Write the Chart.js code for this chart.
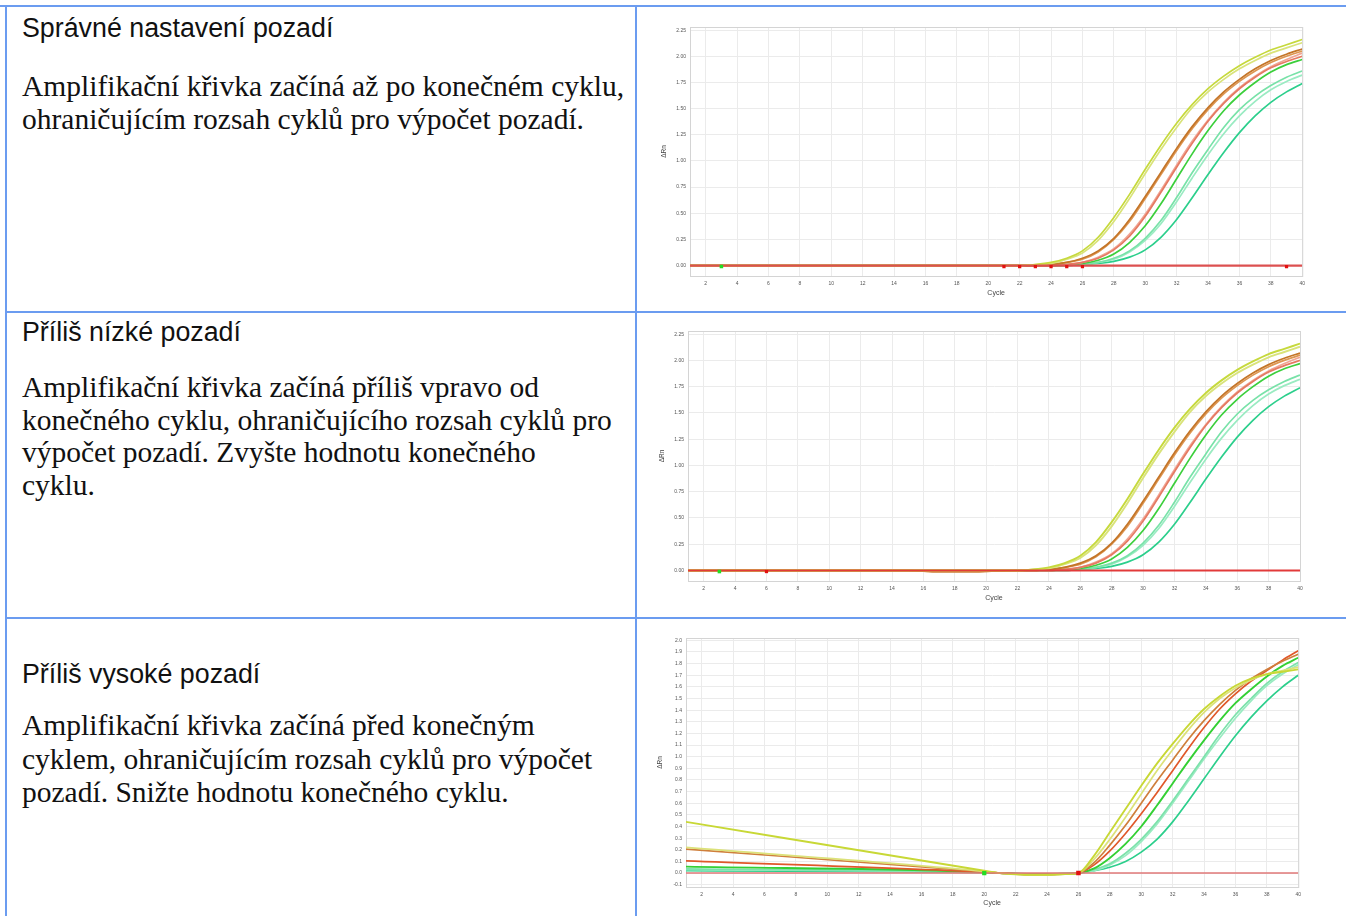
<!DOCTYPE html>
<html>
<head>
<meta charset="utf-8">
<script src="https://cdn.jsdelivr.net/npm/chart.js@4.4.1/dist/chart.umd.min.js"></script>
<style>
  body { margin: 0; background: #fff; width: 1346px; height: 916px; overflow: hidden; position: relative; }
  .rule { position: absolute; background: #6b9cf0; }
  .title { position: absolute; left: 22px; font-family: "Liberation Sans", Arial, sans-serif; font-size: 26.8px; line-height: 26px; color: #111; white-space: nowrap; }
  .text { position: absolute; left: 22px; font-family: "Liberation Serif", "Times New Roman", serif; font-size: 29.5px; line-height: 33px; color: #111; white-space: nowrap; }
  canvas { position: absolute; filter: blur(0.45px); }
</style>
</head>
<body>
<!-- table rules -->
<div class="rule" style="left:0;top:5px;width:1346px;height:2px"></div>
<div class="rule" style="left:5px;top:5px;width:2px;height:911px"></div>
<div class="rule" style="left:635px;top:5px;width:2px;height:911px"></div>
<div class="rule" style="left:5px;top:311px;width:1341px;height:2px"></div>
<div class="rule" style="left:5px;top:617px;width:1341px;height:2px"></div>

<div class="title" style="top:15px">Správné nastavení pozadí</div>
<div class="text" style="top:70px">Amplifikační křivka začíná až po konečném cyklu,<br>ohraničujícím rozsah cyklů pro výpočet pozadí.</div>

<div class="title" style="top:319px">Příliš nízké pozadí</div>
<div class="text" style="top:371px;line-height:32.6px">Amplifikační křivka začíná příliš vpravo od<br>konečného cyklu, ohraničujícího rozsah cyklů pro<br>výpočet pozadí. Zvyšte hodnotu konečného<br>cyklu.</div>

<div class="title" style="top:661px">Příliš vysoké pozadí</div>
<div class="text" style="top:709px;line-height:33.5px">Amplifikační křivka začíná před konečným<br>cyklem, ohraničujícím rozsah cyklů pro výpočet<br>pozadí. Snižte hodnotu konečného cyklu.</div>

<canvas id="chartGood" width="662" height="290" style="left:648px;top:18px"></canvas>
<canvas id="chartLow" width="662" height="290" style="left:646px;top:322px"></canvas>
<canvas id="chartHigh" width="662" height="287" style="left:644px;top:629px"></canvas>

<script>
// amplification curves (ΔRn per cycle) shared by the first two plots
const RISE_CYCLES = [1, 22, 23, 24, 25, 26, 27, 28, 29, 30, 31, 32, 33, 34, 35, 36, 37, 38, 39, 40];
const YELLOW_1 = [0, 0, 0.01, 0.03, 0.07, 0.14, 0.27, 0.46, 0.68, 0.92, 1.15, 1.36, 1.54, 1.69, 1.81, 1.91, 1.99, 2.06, 2.11, 2.16];
const YELLOW_2 = [0, 0, 0.01, 0.02, 0.06, 0.12, 0.24, 0.42, 0.64, 0.88, 1.11, 1.32, 1.51, 1.66, 1.78, 1.88, 1.96, 2.03, 2.08, 2.13];
const ORANGE_1 = [0, 0, 0, 0.01, 0.03, 0.07, 0.14, 0.26, 0.44, 0.66, 0.89, 1.12, 1.33, 1.51, 1.66, 1.78, 1.88, 1.96, 2.02, 2.07];
const ORANGE_2 = [0, 0, 0, 0.01, 0.03, 0.06, 0.13, 0.25, 0.42, 0.64, 0.87, 1.10, 1.31, 1.49, 1.64, 1.76, 1.86, 1.94, 2.00, 2.05];
const SALMON_1 = [0, 0, 0, 0, 0.01, 0.03, 0.07, 0.15, 0.28, 0.47, 0.70, 0.94, 1.17, 1.38, 1.55, 1.69, 1.80, 1.89, 1.95, 2.00];
const SALMON_2 = [0, 0, 0, 0, 0.01, 0.03, 0.08, 0.16, 0.30, 0.49, 0.72, 0.96, 1.19, 1.39, 1.56, 1.70, 1.81, 1.90, 1.97, 2.03];
const GREEN_1 = [0, 0, 0, 0, 0.01, 0.02, 0.05, 0.11, 0.22, 0.38, 0.59, 0.83, 1.07, 1.29, 1.48, 1.63, 1.75, 1.85, 1.92, 1.97];
const LIGHT_1 = [0, 0, 0, 0, 0, 0.01, 0.03, 0.07, 0.14, 0.26, 0.43, 0.65, 0.89, 1.11, 1.32, 1.49, 1.62, 1.72, 1.80, 1.86];
const LIGHT_2 = [0, 0, 0, 0, 0, 0.01, 0.03, 0.06, 0.13, 0.24, 0.40, 0.61, 0.84, 1.06, 1.26, 1.43, 1.57, 1.68, 1.76, 1.82];
const TEAL_1 = [0, 0, 0, 0, 0, 0.01, 0.02, 0.04, 0.08, 0.15, 0.27, 0.44, 0.65, 0.87, 1.08, 1.27, 1.43, 1.56, 1.66, 1.74];

// slight sag of the orange wells before the rise (second plot)
const SAG_CYCLES = [15, 17, 19, 21];
const SAG_VALUES = [0, -0.012, -0.012, -0.004];

// flat baseline well
const BASE_CYCLES = [1, 40];
const BASE_VALUES = [0, 0];

// baseline start / end cycle markers
const GOOD_START = [3];
const GOOD_END = [21, 22, 23, 24, 25, 26, 39];
const LOW_START = [3];
const LOW_END = [6];
const HIGH_START = [20];
const HIGH_END = [26];

// third plot: wells with a sloped pre-rise segment
const HIGH_CYCLES = [1, 20, 21, 22, 23, 24, 25, 26, 27, 28, 29, 30, 31, 32, 33, 34, 35, 36, 37, 38, 39, 40];
const H_YELLOW_1 = [0.44, 0.02, 0, -0.01, -0.015, -0.015, -0.01, 0, 0.15, 0.35, 0.55, 0.75, 0.94, 1.11, 1.27, 1.41, 1.52, 1.61, 1.67, 1.71, 1.73, 1.75];
const H_YELLOW_2 = [0.22, 0.015, 0, -0.01, -0.015, -0.015, -0.01, 0, 0.12, 0.29, 0.48, 0.68, 0.88, 1.06, 1.23, 1.38, 1.50, 1.59, 1.66, 1.71, 1.74, 1.77];
const H_ORANGE = [0.205, 0.012, 0, -0.01, -0.015, -0.015, -0.01, 0, 0.09, 0.24, 0.41, 0.60, 0.79, 0.97, 1.15, 1.31, 1.45, 1.57, 1.67, 1.75, 1.82, 1.88];
const H_RED = [0.105, 0.008, 0, -0.008, -0.012, -0.012, -0.008, 0, 0.07, 0.19, 0.34, 0.51, 0.69, 0.88, 1.07, 1.25, 1.41, 1.54, 1.65, 1.74, 1.83, 1.91];
const H_GREEN = [0.055, 0.008, 0, -0.005, -0.01, -0.01, -0.006, 0, 0.04, 0.13, 0.25, 0.40, 0.58, 0.77, 0.96, 1.14, 1.31, 1.46, 1.58, 1.69, 1.78, 1.85];
const H_LIGHT_1 = [0.035, 0.006, 0, -0.005, -0.01, -0.01, -0.006, 0, 0.03, 0.08, 0.17, 0.29, 0.44, 0.62, 0.81, 1.00, 1.19, 1.36, 1.50, 1.63, 1.73, 1.81];
const H_LIGHT_2 = [0.03, 0.005, 0, -0.005, -0.01, -0.01, -0.006, 0, 0.02, 0.07, 0.15, 0.27, 0.42, 0.60, 0.79, 0.98, 1.16, 1.33, 1.48, 1.61, 1.71, 1.79];
const H_TEAL = [0.02, 0.004, 0, -0.004, -0.008, -0.008, -0.005, 0, 0.02, 0.05, 0.10, 0.18, 0.29, 0.44, 0.62, 0.81, 1.00, 1.18, 1.34, 1.48, 1.60, 1.70];

const toPoints = (xs, ys) => xs.map((x, i) => ({ x, y: ys[i] }));

const curve = (xs, ys, color, width = 1.7) => ({
  data: toPoints(xs, ys),
  borderColor: color,
  borderWidth: width,
  pointRadius: 0,
  fill: false,
  cubicInterpolationMode: 'monotone'
});

const markers = (cycles, color, y, size) => ({
  data: cycles.map(c => ({ x: c, y })),
  showLine: false,
  pointStyle: 'rect',
  pointRadius: size,
  pointBackgroundColor: color,
  pointBorderColor: color,
  pointBorderWidth: 0
});

// light frame round the plot area
const frame = {
  id: 'frame',
  beforeDatasetsDraw(chart) {
    const { ctx, chartArea: a } = chart;
    ctx.save();
    ctx.strokeStyle = '#d4d4d4';
    ctx.lineWidth = 1;
    ctx.strokeRect(a.left + 0.5, a.top + 0.5, a.right - a.left, a.bottom - a.top);
    ctx.restore();
  }
};

const tickFont = { family: 'Arial, "Liberation Sans", sans-serif', size: 5 };
const titleFont = { family: 'Arial, "Liberation Sans", sans-serif', size: 7 };

function makeChart(id, datasets, y, box) {
  new Chart(document.getElementById(id), {
    type: 'line',
    data: { datasets },
    plugins: [frame],
    options: {
      responsive: false,
      animation: false,
      devicePixelRatio: 1,
      layout: { padding: { left: 0, right: box.right, top: box.top, bottom: 0 } },
      plugins: { legend: { display: false }, tooltip: { enabled: false } },
      scales: {
        x: {
          type: 'linear',
          min: 1,
          max: 40,
          afterFit: s => { s.height = box.xHeight; },
          grid: { color: '#ebebeb', drawTicks: false },
          border: { color: '#a8a8a8' },
          ticks: { stepSize: 2, includeBounds: false, autoSkip: false, maxRotation: 0, padding: 5, color: '#555', font: tickFont },
          title: { display: true, text: 'Cycle', color: '#444', font: titleFont, padding: { top: 1, bottom: box.cyclePad } }
        },
        y: {
          type: 'linear',
          min: y.min,
          max: y.max,
          afterFit: s => { s.width = 42; },
          grid: { color: '#ebebeb', drawTicks: false },
          border: { color: '#a8a8a8' },
          ticks: { stepSize: y.step, includeBounds: false, autoSkip: false, padding: 4, color: '#555', font: tickFont,
                   callback: v => v.toFixed(y.digits) },
          title: { display: true, text: 'ΔRn', color: '#444', font: { family: titleFont.family, size: 6.5 }, padding: { top: 12, bottom: 0 } }
        }
      }
    }
  });
}

// 1) baseline set correctly
makeChart('chartGood', [
  markers(GOOD_START, '#22dd22', -0.01, 2.5),
  markers(GOOD_END, '#e31010', -0.01, 2.3),
  curve(BASE_CYCLES, BASE_VALUES, '#dc5050', 2.2),
  curve(RISE_CYCLES, YELLOW_1, '#c6d93c'),
  curve(RISE_CYCLES, YELLOW_2, '#d9e37a'),
  curve(RISE_CYCLES, ORANGE_1, '#c47528'),
  curve(RISE_CYCLES, ORANGE_2, '#dd9652'),
  curve(RISE_CYCLES, SALMON_1, '#e57a62'),
  curve(RISE_CYCLES, SALMON_2, '#f0a595'),
  curve(RISE_CYCLES, GREEN_1, '#3ccf3c'),
  curve(RISE_CYCLES, LIGHT_1, '#78e2a8'),
  curve(RISE_CYCLES, LIGHT_2, '#9aebc2'),
  curve(RISE_CYCLES, TEAL_1, '#2ccf8c')
], { min: -0.1, max: 2.28, step: 0.25, digits: 2 }, { top: 9, right: 7, xHeight: 32, cyclePad: 11 });

// 2) baseline too low: orange wells sag a little before the rise
const sagged = ys => toPoints(SAG_CYCLES, SAG_VALUES).concat(toPoints(RISE_CYCLES, ys).slice(1));
const saggedCurve = (ys, color) => Object.assign(curve(RISE_CYCLES, ys, color), { data: [{ x: 1, y: 0 }].concat(sagged(ys)) });

makeChart('chartLow', [
  markers(LOW_START, '#22dd22', -0.01, 2.5),
  markers(LOW_END, '#e31010', -0.01, 2.3),
  curve(BASE_CYCLES, BASE_VALUES, '#e23a3a', 2.2),
  curve(RISE_CYCLES, YELLOW_1, '#c6d93c', 1.9),
  curve(RISE_CYCLES, YELLOW_2, '#d9e37a', 1.9),
  saggedCurve(ORANGE_1, '#c47528'),
  saggedCurve(ORANGE_2, '#dd9652'),
  curve(RISE_CYCLES, SALMON_1, '#e57a62'),
  curve(RISE_CYCLES, SALMON_2, '#f0a595'),
  curve(RISE_CYCLES, GREEN_1, '#3ccf3c'),
  curve(RISE_CYCLES, LIGHT_1, '#78e2a8'),
  curve(RISE_CYCLES, LIGHT_2, '#9aebc2'),
  curve(RISE_CYCLES, TEAL_1, '#2ccf8c')
], { min: -0.1, max: 2.28, step: 0.25, digits: 2 }, { top: 9, right: 8, xHeight: 31, cyclePad: 10 });

// 3) baseline too high
makeChart('chartHigh', [
  markers(HIGH_START, '#22dd22', 0, 3),
  markers(HIGH_END, '#e31010', 0, 3.2),
  curve(BASE_CYCLES, BASE_VALUES, '#e07878', 1.6),
  curve(HIGH_CYCLES, H_YELLOW_1, '#c8d836', 1.9),
  curve(HIGH_CYCLES, H_YELLOW_2, '#dce27a'),
  curve(HIGH_CYCLES, H_ORANGE, '#cf7f3c'),
  curve(HIGH_CYCLES, H_RED, '#e0582a'),
  curve(HIGH_CYCLES, H_GREEN, '#34d034', 1.9),
  curve(HIGH_CYCLES, H_LIGHT_1, '#7ce2aa'),
  curve(HIGH_CYCLES, H_LIGHT_2, '#9aebc2'),
  curve(HIGH_CYCLES, H_TEAL, '#2ccf8c')
], { min: -0.12, max: 2.02, step: 0.1, digits: 1 }, { top: 9, right: 7, xHeight: 29, cyclePad: 9 });
</script>
</body>
</html>
